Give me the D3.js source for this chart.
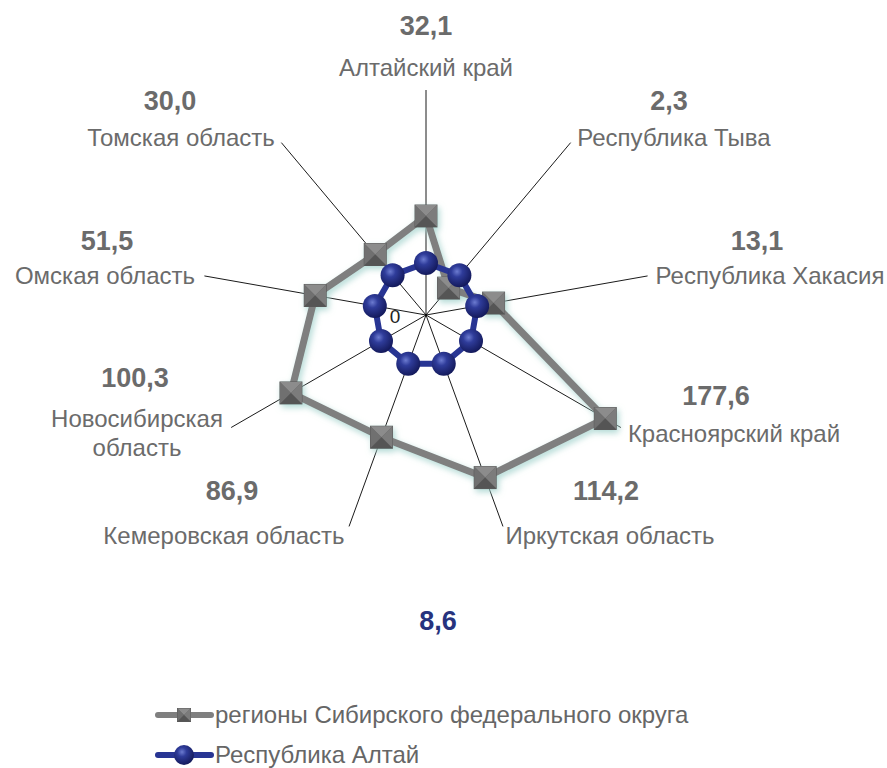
<!DOCTYPE html>
<html><head><meta charset="utf-8">
<script src="https://cdn.jsdelivr.net/npm/d3@7/dist/d3.min.js"></script>
<style>
body{margin:0;background:#fff;}
svg{display:block;}
text{font-family:"Liberation Sans",Arial,sans-serif;}
</style></head>
<body>
<svg id="chart" width="887" height="768"></svg>
<script>
// ---- data ----
const categories = ["Алтайский край","Республика Тыва","Республика Хакасия","Красноярский край","Иркутская область","Кемеровская область","Новосибирская область","Омская область","Томская область"];
// data labels shown on the chart
const regionLabelValues = [32.1, 2.3, 13.1, 177.6, 114.2, 86.9, 100.3, 51.5, 30.0];
const altaiLabelValue = 8.6;
// plotted positions (radial axis 0..100)
const regionPlotted = [44.0, 15.6, 30.5, 92.0, 76.9, 57.8, 69.3, 50.0, 35.1];
const altaiPlotted = [23.1, 23.1, 23.1, 23.1, 23.1, 23.1, 23.1, 23.1, 23.1];
const seriesNames = ["регионы Сибирского федерального округа", "Республика Алтай"];
const axisTicks = [0];

// ---- layout ----
const W = 887, H = 768, cx = 426, cy = 315, R = 225;
const svg = d3.select("#chart");
const rScale = d3.scaleLinear().domain([0, 100]).range([0, R]);
const aScale = d3.scaleLinear().domain([0, categories.length]).range([0, 2 * Math.PI]);
const fmt = v => d3.format(".1f")(v).replace(".", ",");

const defs = svg.append("defs");
const glow = defs.append("filter").attr("id", "glow").attr("x", "-20%").attr("y", "-20%").attr("width", "140%").attr("height", "140%");
glow.append("feGaussianBlur").attr("in", "SourceAlpha").attr("stdDeviation", 3).attr("result", "b");
glow.append("feOffset").attr("in", "b").attr("dx", 2).attr("dy", 3).attr("result", "o");
glow.append("feFlood").attr("flood-color", "#9fd0ca").attr("flood-opacity", 0.8);
glow.append("feComposite").attr("in2", "o").attr("operator", "in").attr("result", "s");
const m = glow.append("feMerge");
m.append("feMergeNode").attr("in", "s");
m.append("feMergeNode").attr("in", "SourceGraphic");

const sph = defs.append("radialGradient").attr("id", "sphere").attr("cx", "40%").attr("cy", "35%").attr("r", "65%");
sph.append("stop").attr("offset", "0%").attr("stop-color", "#6c7bd0");
sph.append("stop").attr("offset", "35%").attr("stop-color", "#2f3c9a");
sph.append("stop").attr("offset", "100%").attr("stop-color", "#141a5c");

const g = svg.append("g").attr("transform", `translate(${cx},${cy})`);
const pt = (i, v) => {
  const a = aScale(i), r = rScale(v);
  return [r * Math.sin(a), -r * Math.cos(a)];
};

// spokes
g.selectAll("line.spoke").data(categories).join("line")
  .attr("x1", 0).attr("y1", 0)
  .attr("x2", (d, i) => pt(i, 100)[0]).attr("y2", (d, i) => pt(i, 100)[1])
  .attr("stroke", "#000").attr("stroke-width", 0.9);

// axis tick label
g.selectAll("text.tick").data(axisTicks).join("text")
  .attr("x", -31).attr("y", d => -rScale(d) + 8)
  .attr("text-anchor", "middle").attr("font-size", 19).attr("fill", "#222").text(d => d);

const line = d3.lineRadial().angle((d, i) => aScale(i)).radius(d => rScale(d)).curve(d3.curveLinearClosed);

// region series
const gs = g.append("g").attr("filter", "url(#glow)");
gs.append("path").attr("d", line(regionPlotted)).attr("fill", "none").attr("stroke", "#7f7f7f").attr("stroke-width", 7).attr("stroke-linejoin", "round");

function pyramid(sel, s) {
  const h = s / 2;
  sel.append("rect").attr("x", -h).attr("y", -h).attr("width", s).attr("height", s).attr("fill", "#666").attr("stroke", "#5a5a5a").attr("stroke-width", 1);
  sel.append("path").attr("d", `M${-h},${-h}L${h},${-h}L0,0Z`).attr("fill", "#8c8c8c");
  sel.append("path").attr("d", `M${-h},${-h}L${-h},${h}L0,0Z`).attr("fill", "#6f6f6f");
  sel.append("path").attr("d", `M${h},${-h}L${h},${h}L0,0Z`).attr("fill", "#7b7b7b");
  sel.append("path").attr("d", `M${-h},${h}L${h},${h}L0,0Z`).attr("fill", "#555");
}
gs.selectAll("g.mk").data(regionPlotted).join("g")
  .attr("transform", (d, i) => `translate(${pt(i, d)})`)
  .each(function () { pyramid(d3.select(this), 22); });

// altai series
const ga = g.append("g");
ga.append("path").attr("d", line(altaiPlotted)).attr("fill", "none").attr("stroke", "#283593").attr("stroke-width", 6);
ga.selectAll("circle").data(altaiPlotted).join("circle")
  .attr("cx", (d, i) => pt(i, d)[0]).attr("cy", (d, i) => pt(i, d)[1])
  .attr("r", 12).attr("fill", "url(#sphere)");

// labels
const labelPos = [
  {v:[426,35], c:[[426,76]]},
  {v:[669,110], c:[[674,146]]},
  {v:[757,250], c:[[770,284]]},
  {v:[716,405], c:[[734,442]]},
  {v:[606,500], c:[[610,544]]},
  {v:[232,500], c:[[224,544]]},
  {v:[135,387], c:[[137,427],[137,456]]},
  {v:[107,250], c:[[105,284]]},
  {v:[170,110], c:[[181,146]]}
];
const labelLines = [["Алтайский край"],["Республика Тыва"],["Республика Хакасия"],["Красноярский край"],["Иркутская область"],["Кемеровская область"],["Новосибирская","область"],["Омская область"],["Томская область"]];
const lab = svg.append("g");
lab.selectAll("text.val").data(regionLabelValues).join("text")
  .attr("x", (d, i) => labelPos[i].v[0]).attr("y", (d, i) => labelPos[i].v[1])
  .attr("text-anchor", "middle").attr("font-size", 27).attr("font-weight", "bold").attr("fill", "#6b6b6b")
  .text(d => fmt(d));
categories.forEach((c, i) => {
  labelLines[i].forEach((t, j) => {
    lab.append("text").attr("x", labelPos[i].c[j][0]).attr("y", labelPos[i].c[j][1])
      .attr("text-anchor", "middle").attr("font-size", 24).attr("fill", "#6b6b6b").text(t);
  });
});
lab.append("text").attr("x", 438).attr("y", 630).attr("text-anchor", "middle")
  .attr("font-size", 27).attr("font-weight", "bold").attr("fill", "#27337e").text(fmt(altaiLabelValue));

// legend
const leg = svg.append("g");
const ly = [715, 755];
leg.append("line").attr("x1", 158).attr("x2", 211).attr("y1", ly[0]).attr("y2", ly[0]).attr("stroke", "#7f7f7f").attr("stroke-width", 6).attr("stroke-linecap", "round");
leg.append("g").attr("transform", `translate(184,${ly[0]})`).each(function () { pyramid(d3.select(this), 13); });
leg.append("line").attr("x1", 158).attr("x2", 211).attr("y1", ly[1]).attr("y2", ly[1]).attr("stroke", "#283593").attr("stroke-width", 6).attr("stroke-linecap", "round");
leg.append("circle").attr("cx", 184).attr("cy", ly[1]).attr("r", 10).attr("fill", "url(#sphere)");
leg.selectAll("text").data(seriesNames).join("text")
  .attr("x", 215).attr("y", (d, i) => ly[i] + 8).attr("font-size", 24).attr("fill", "#666").text(d => d);
</script>
</body></html>
